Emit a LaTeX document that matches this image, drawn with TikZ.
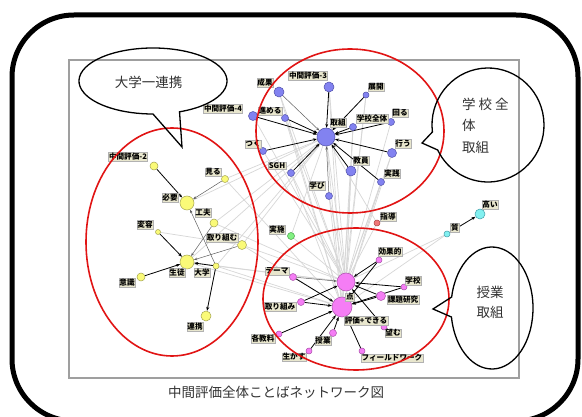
\documentclass[tikz,border=0pt]{standalone}
\usepackage{fontspec}
\newfontfamily\cjk{Noto Sans CJK JP}
\usetikzlibrary{arrows.meta}
\pgfdeclarelayer{background}
\pgfsetlayers{background,main}
\definecolor{bF}{RGB}{130,130,240}\definecolor{bD}{RGB}{80,80,170}
\definecolor{yF}{RGB}{250,250,120}\definecolor{yD}{RGB}{165,165,80}
\definecolor{pF}{RGB}{245,125,245}\definecolor{pD}{RGB}{170,80,170}
\definecolor{gF}{RGB}{130,240,130}\definecolor{gD}{RGB}{70,160,70}
\definecolor{rF}{RGB}{240,120,120}\definecolor{rD}{RGB}{170,70,70}
\definecolor{cF}{RGB}{130,240,240}\definecolor{cD}{RGB}{70,160,170}
\definecolor{labF}{RGB}{232,230,205}
\definecolor{ellC}{RGB}{225,20,20}
\definecolor{faint}{RGB}{215,215,215}
\definecolor{txt}{RGB}{50,50,50}
\tikzset{
  nd/.style={circle,inner sep=0pt,line width=0.5pt},
  bn/.style={nd,draw=bD,fill=bF,minimum size=#1},
  yn/.style={nd,draw=yD,fill=yF,minimum size=#1},
  pn/.style={nd,draw=pD,fill=pF,minimum size=#1},
  gn/.style={nd,draw=gD,fill=gF,minimum size=#1},
  rn/.style={nd,draw=rD,fill=rF,minimum size=#1},
  cn/.style={nd,draw=cD,fill=cF,minimum size=#1},
  lab/.style={draw=gray!60,fill=labF,inner sep=0.7pt,line width=0.4pt,
    font=\cjk\bfseries\fontsize{7.6}{8.5}\selectfont},
  ar/.style={black,line width=0.8pt,-{Stealth[length=4pt,width=3pt]}},
  arg/.style={gray!75!black,line width=0.5pt,-{Stealth[length=3.5pt,width=2.6pt]}},
  fl/.style={faint,line width=0.7pt},
  redell/.style={draw=ellC,line width=1.6pt},
  bubble/.style={draw=black,line width=1.3pt},
  btxt/.style={text=txt,font=\cjk\fontsize{13.5}{16}\selectfont,inner sep=0pt}
}
\begin{document}
\begin{tikzpicture}[x=1pt,y=-1pt]
\useasboundingbox (0,0) rectangle (582,417);
\clip (0,0) rectangle (582,417);
% nodes: blue
\node[bn=18] (torikumi) at (326,137) {};
\node[bn=10] (chukanC) at (329,87) {};
\node[bn=10] (seika) at (279,92) {};
\node[bn=6] (tenkai) at (366,95) {};
\node[bn=7] (susumeru) at (285,118) {};
\node[bn=9] (chukanD) at (253,116) {};
\node[bn=7] (gakkozentai) at (353,127) {};
\node[bn=7] (mawaru) at (391,122) {};
\node[bn=7] (tsuku) at (263,151) {};
\node[bn=9] (okonau) at (392,153) {};
\node[bn=7] (sgh) at (291,173) {};
\node[bn=10] (kyoin) at (351,171) {};
\node[bn=7] (jissen) at (381,182) {};
\node[bn=7] (manabi) at (329,196) {};
% yellow
\node[yn=8] (chukanB) at (154,166) {};
\node[yn=7] (miru) at (225,179) {};
\node[yn=14] (hitsuyo) at (187,203) {};
\node[yn=8] (kufu) at (214,223) {};
\node[yn=5] (henyo) at (158,232) {};
\node[yn=9] (torikumu) at (242,245) {};
\node[yn=14] (seito) at (187,262) {};
\node[yn=6] (daigaku) at (216,266) {};
\node[yn=8] (ishiki) at (141,277) {};
\node[yn=10] (renkei) at (206,316) {};
% pink
\node[pn=18] (ten) at (346,282) {};
\node[pn=20] (hyoka) at (342,307) {};
\node[pn=6] (kokateki) at (379,260) {};
\node[pn=6] (gakko) at (404,287) {};
\node[pn=9] (kadai) at (381,296) {};
\node[pn=7] (tema) at (293,277) {};
\node[pn=7] (torikumiB) at (301,302) {};
\node[pn=6] (nozomu) at (384,327) {};
\node[pn=6] (kakukyoka) at (279,334) {};
\node[pn=7] (jugyo) at (333,333) {};
\node[pn=6] (ikasu) at (309,351) {};
\node[pn=6] (field) at (362,351) {};
% others
\node[rn=6] (shido) at (377,223) {};
\node[gn=7] (jisshi) at (291,236) {};
\node[cn=6] (shitsu) at (447,234) {};
\node[cn=10] (takai) at (480,214) {};

\begin{pgfonlayer}{background}
\fill[white] (0,0) rectangle (582,417);
\draw[gray!75,line width=1.2pt] (69,60) rectangle (519,378);
\foreach \a/\b in {ten/torikumi,ten/manabi,ten/kyoin,ten/jissen,ten/sgh,ten/gakkozentai,
  ten/tenkai,ten/mawaru,ten/okonau,ten/chukanC,ten/seika,ten/susumeru,ten/tsuku,ten/chukanD,
  hyoka/torikumi,hyoka/manabi,hyoka/kyoin,hyoka/sgh,hyoka/gakkozentai,hyoka/seika,hyoka/okonau,
  hyoka/jissen,hyoka/tenkai,hyoka/chukanC,hyoka/susumeru,
  torikumu/ten,torikumu/hyoka,torikumu/torikumi,daigaku/hyoka,daigaku/torikumi,kufu/torikumi,
  miru/torikumi,miru/hyoka,hitsuyo/torikumi,seito/torikumi,seito/hyoka,henyo/torikumu,
  jisshi/torikumi,jisshi/ten,shido/torikumi,shido/ten,shitsu/ten,shitsu/hyoka,kufu/ten,
  seito/ten,daigaku/ten}
  \draw[fl] (\a) -- (\b);
% blue arrows
\foreach \a in {chukanC,tenkai,susumeru,chukanD,gakkozentai,mawaru,tsuku,okonau,sgh,kyoin,jissen}
  \draw[ar] (\a) -- (torikumi);
\draw[arg] (seika) -- (torikumi);
\draw[arg] (manabi) -- (torikumi);
% yellow arrows
\draw[ar] (chukanB) -- (hitsuyo);
\draw[arg] (miru) -- (hitsuyo);
\draw[arg] (daigaku) -- (hitsuyo);
\draw[arg] (kufu) -- (seito);
\draw[ar] (henyo) -- (seito);
\draw[arg] (torikumu) -- (seito);
\draw[ar] (ishiki) -- (seito);
\draw[ar] (daigaku) -- (seito);
\draw[ar] (daigaku) -- (renkei);
% pink arrows
\foreach \a in {kokateki,gakko,kadai,torikumiB,nozomu}
  \draw[ar] (\a) -- (ten);
\draw[arg] (tema) -- (ten);
\foreach \a in {kokateki,gakko,kadai,tema,torikumiB,kakukyoka,jugyo,ikasu,field}
  \draw[ar] (\a) -- (hyoka);
\draw[ar] (shitsu) -- (takai);
\end{pgfonlayer}

% labels
\node[lab] (lchukanC) at (308,76) {中間評価-3};
\node[lab] (lseika) at (265,83) {成果};
\node[lab] (ltenkai) at (376,87) {展開};
\node[lab] (lsusumeru) at (270,111) {進める};
\node[lab] (lchukanD) at (223,109) {中間評価-4};
\node[lab] (lgakkozentai) at (372,119) {学校全体};
\node[lab] (lmawaru) at (400,113) {回る};
\node[lab] (ltorikumi) at (338,123) {取組};
\node[lab] (ltsuku) at (253,144) {つく};
\node[lab] (lokonau) at (403,144) {行う};
\node[lab] (lsgh) at (277,166) {SGH};
\node[lab] (lkyoin) at (361,161) {教員};
\node[lab] (ljissen) at (392,174) {実践};
\node[lab] (lmanabi) at (317,186) {学び};
\node[lab] (lchukanB) at (128,157) {中間評価-2};
\node[lab] (lmiru) at (213,172) {見る};
\node[lab] (lhitsuyo) at (170,198) {必要};
\node[lab] (lkufu) at (203,213) {工夫};
\node[lab] (lhenyo) at (145,225) {変容};
\node[lab] (ltorikumu) at (222,238) {取り組む};
\node[lab] (lseito) at (177,273) {生徒};
\node[lab] (ldaigaku) at (202,273) {大学};
\node[lab] (lishiki) at (127,283) {意識};
\node[lab] (lrenkei) at (195,327) {連携};
\node[lab] (lten) at (350,297) {点};
\node[lab] (lhyoka) at (366,321) {評価+できる};
\node[lab] (lkokateki) at (390,252) {効果的};
\node[lab] (lgakko) at (413,281) {学校};
\node[lab] (lkadai) at (403,300) {課題研究};
\node[lab] (ltema) at (277,271) {テーマ};
\node[lab] (ltorikumiB) at (280,307) {取り組み};
\node[lab] (lnozomu) at (393,333) {望む};
\node[lab] (lkakukyoka) at (263,339) {各教料};
\node[lab] (ljugyo) at (323,341) {授業};
\node[lab] (likasu) at (294,357) {生かす};
\node[lab] (lfield) at (392,358) {フィールドワーク};
\node[lab] (lshido) at (388,217) {指導};
\node[lab] (ljisshi) at (277,230) {実施};
\node[lab] (lshitsu) at (455,228) {質};
\node[lab] (ltakai) at (490,205) {高い};

% red ellipses
\draw[redell] (350,131) ellipse[x radius=94,y radius=82];
\draw[redell] (172,242) ellipse[x radius=86,y radius=114];
\draw[redell] (356,299) ellipse[x radius=93,y radius=71];

% speech bubbles
\coordinate (tipA) at (182,147);
\draw[bubble] (153,81) ++(69:74 and 33) arc[start angle=69,end angle=-270,x radius=74,y radius=33] -- (tipA) -- cycle;
\node[btxt] (tA) at (148.5,82) {大学一連携};
\coordinate (tipB) at (422,143);
\draw[bubble] (488,125) ++(173:56 and 57) arc[start angle=173,end angle=514,x radius=56,y radius=57] -- (tipB) -- cycle;
\node[btxt,anchor=west] (tB1) at (462,104) {学\hspace{3pt}校\hspace{3pt}全};
\node[btxt,anchor=west] (tB2) at (462,125.5) {体};
\node[btxt,anchor=west] (tB3) at (462,147) {取組};
\coordinate (tipC) at (433,309);
\draw[bubble] (492,308) ++(190.4:41 and 61) arc[start angle=190.4,end angle=531.5,x radius=41,y radius=61] -- (tipC) -- cycle;
\node[btxt] (tC1) at (490,292) {授業};
\node[btxt] (tC2) at (490,312) {取組};

% caption
\node[btxt] (cap) at (276,392) {中間評価全体ことばネットワーク図};

% outer border
\draw[line width=5pt,rounded corners=62pt] (12,15) rectangle (578,421);
\end{tikzpicture}
\end{document}
